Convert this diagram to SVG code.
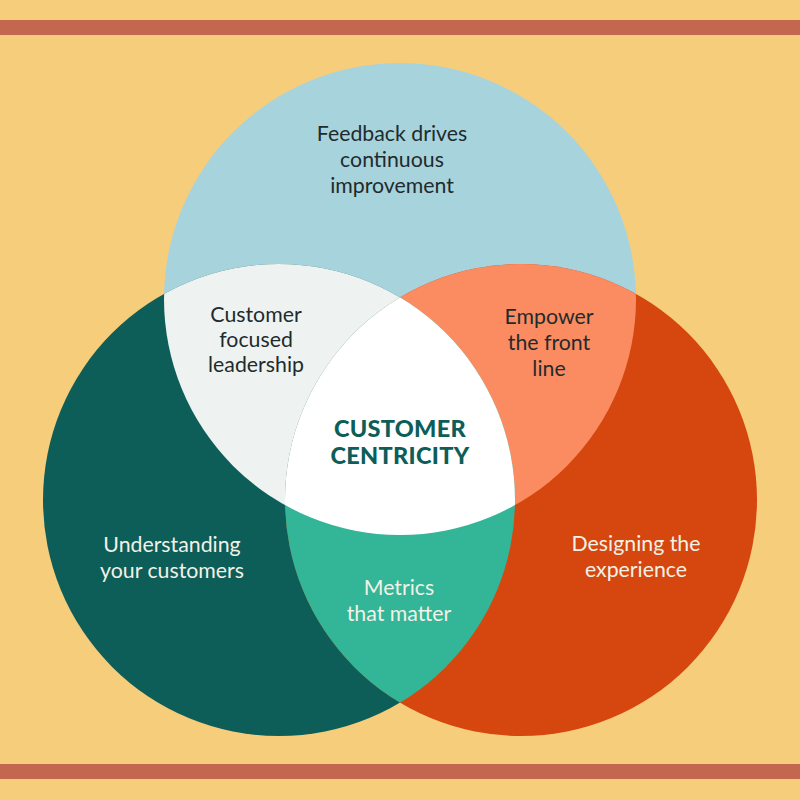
<svg xmlns="http://www.w3.org/2000/svg" width="800" height="800" viewBox="0 0 800 800">
<style>
.t{font-family:Lato,"Noto Sans","Liberation Sans",sans-serif;font-size:21.3px;text-anchor:middle}
.dk{fill:#1F2B2C}
.lt{fill:#F2F1E6}
.hd{font-family:Lato,"Noto Sans","Liberation Sans",sans-serif;font-size:23.5px;font-weight:900;text-anchor:middle;fill:#0D5D58;letter-spacing:0.3px}
</style>
<defs>
<clipPath id="cT"><circle cx="400" cy="299" r="236"/></clipPath>
<clipPath id="cL"><circle cx="279" cy="500" r="236"/></clipPath>
<clipPath id="cR"><circle cx="521" cy="500" r="236"/></clipPath>
</defs>
<rect width="800" height="800" fill="#F6CD7A"/>
<rect x="0" y="20" width="800" height="15" fill="#C4674F"/>
<rect x="0" y="764" width="800" height="15" fill="#C4674F"/>
<g id="circle-top"><circle cx="400" cy="299" r="236" fill="#A7D3DD"/></g>
<g id="circle-left"><circle cx="279" cy="500" r="236" fill="#0D5D58"/></g>
<g id="circle-right"><circle cx="521" cy="500" r="236" fill="#D5470F"/></g>
<g id="top-left"><circle cx="400" cy="299" r="236" fill="#EEF3F1" clip-path="url(#cL)"/></g>
<g id="top-right"><circle cx="400" cy="299" r="236" fill="#FB8C62" clip-path="url(#cR)"/></g>
<g id="left-right"><circle cx="279" cy="500" r="236" fill="#33B597" clip-path="url(#cR)"/></g>
<g id="center" clip-path="url(#cL)"><circle cx="400" cy="299" r="236" fill="#FFFFFF" clip-path="url(#cR)"/></g>
<g id="connectors"/>
<g id="labels">
<text class="t dk" x="392" y="141">Feedback drives</text>
<text class="t dk" x="392" y="167">continuous</text>
<text class="t dk" x="392" y="193">improvement</text>
<text class="t dk" x="256" y="322">Customer</text>
<text class="t dk" x="256" y="347">focused</text>
<text class="t dk" x="256" y="372">leadership</text>
<text class="t dk" x="549" y="324">Empower</text>
<text class="t dk" x="549" y="350">the front</text>
<text class="t dk" x="549" y="376">line</text>
<text class="hd" x="400" y="437">CUSTOMER</text>
<text class="hd" x="400" y="464">CENTRICITY</text>
<text class="t lt" x="172" y="552">Understanding</text>
<text class="t lt" x="172" y="578">your customers</text>
<text class="t lt" x="636" y="551">Designing the</text>
<text class="t lt" x="636" y="577">experience</text>
<text class="t lt" x="399" y="595">Metrics</text>
<text class="t lt" x="399" y="621">that matter</text>
</g>
</svg>
